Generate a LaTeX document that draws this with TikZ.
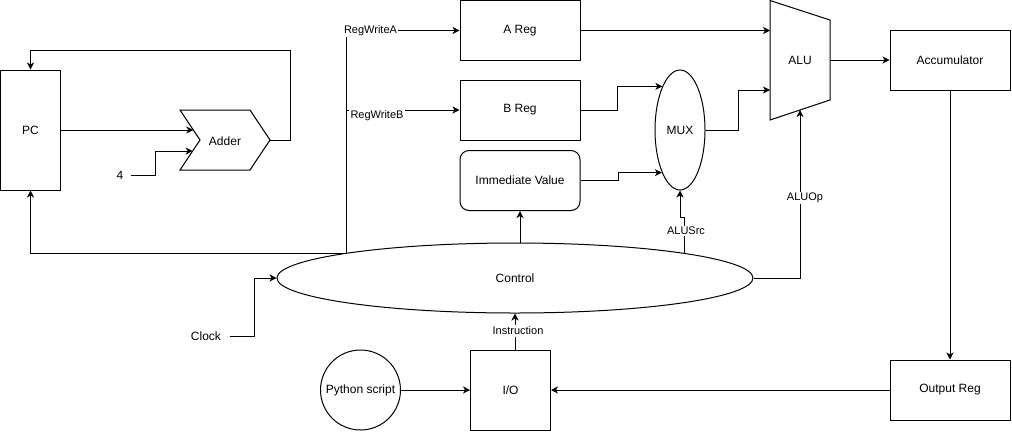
\documentclass[tikz,border=0pt]{standalone}
\usepackage{fontspec}
\setmainfont{Liberation Sans}
\usetikzlibrary{arrows.meta,shapes.geometric,calc}
\begin{document}
\begin{tikzpicture}[x=1pt,y=-1pt,line width=1pt,
  every node/.style={font=\fontsize{12}{14}\selectfont},
  arr/.style={-{Stealth[length=7pt,width=7pt,inset=2pt]}},
  box/.style={draw,rectangle,minimum width=120,minimum height=60,inner sep=0pt},
  lbl/.style={fill=white,inner sep=1.5pt,font=\fontsize{11}{13}\selectfont}]
\useasboundingbox (0,0) rectangle (1012,432);
% nodes
\node[draw,rectangle,minimum width=60,minimum height=120,inner sep=0pt] (pc) at (30.5,130) {PC};
\node (adder) at (225,141) {Adder};
\draw (180,110) -- (250,110) -- (270,140) -- (250,170) -- (180,170) -- (200,140) -- cycle;
\coordinate (addin1) at (193.3,130);
\coordinate (addin2) at (192.7,151);
\coordinate (addout) at (270,140);
\node[minimum width=20,inner sep=0pt] (four) at (120,175.5) {4};
\node[box] (areg) at (520,30.5) {A Reg};
\node[box] (breg) at (520,110) {B Reg};
\node[box,rounded corners=9pt] (imm) at (520,180.5) {Immediate Value};
\node[draw,ellipse,minimum width=50,minimum height=120,inner sep=0pt] (mux) at (680,130) {MUX};
\draw (770,0.5) -- (830,20) -- (830,100) -- (770,120) -- cycle;
\node (alu) at (800,60) {ALU};
\coordinate (aluA) at (770,30.5);
\coordinate (aluB) at (770,90);
\coordinate (aluout) at (830,60);
\coordinate (aluop) at (800,110);
\node[box] (acc) at (950,60) {Accumulator};
\node[box] (oreg) at (950,390) {Output Reg};
\node[draw,ellipse,minimum width=476,minimum height=70,inner sep=0pt] (ctrl) at (515,278) {Control};
\coordinate (ctlA) at (346,253.4);
\coordinate (ctlS) at (684.5,253.4);
\node[minimum width=46,inner sep=0pt] (clock) at (206,336) {Clock};
\node[draw,rectangle,minimum width=80,minimum height=80,inner sep=0pt] (io) at (510.5,390) {I/O};
\node[draw,circle,minimum size=80,inner sep=0pt] (py) at (360.5,390) {Python script};
% connectors
\draw[arr] (pc.east |- addin1) -- (addin1);
\draw[arr] (four.east) -- (155,175.5) |- (addin2);
\draw[arr] (addout) -- (290,140) -- (290,50) -| (pc.north);
\draw[arr] (ctlA) -| (pc.south);
\draw[arr] (ctlA) |- (areg.west);
\draw[arr] (346,110) -- (breg.west);
\node[lbl] at (370.5,30.5) {RegWriteA};
\node[lbl] at (377,115.5) {RegWriteB};
\draw[arr] (areg.east) -- (aluA);
\draw[arr] (breg.east) -- (617.5,110) |- (mux.112.5);
\draw[arr] (imm.east) -- (618,180.5) |- (mux.247.5);
\draw[arr] (mux.east) -- (738,130) |- (aluB);
\draw[arr] (aluout) -- (acc.west);
\draw[arr] (acc.south) -- (oreg.north);
\draw[arr] (oreg.west) -- (io.east);
\draw[arr] (py.east) -- (io.west);
\draw[arr] (imm.south |- ctrl.north) -- (imm.south);
\draw[arr] (ctlS) -- (684.5,217) -- (680,217) -- (mux.south);
\node[lbl] at (686,231) {ALUSrc};
\draw[arr] (ctrl.east) -| (aluop);
\node[lbl] at (805,198) {ALUOp};
\draw[arr] (ctrl.south |- io.north) -- (ctrl.south);
\node[lbl] at (518,331) {Instruction};
\draw[arr] (clock.east) -- (254.5,336) |- (ctrl.west);
\end{tikzpicture}
\end{document}
